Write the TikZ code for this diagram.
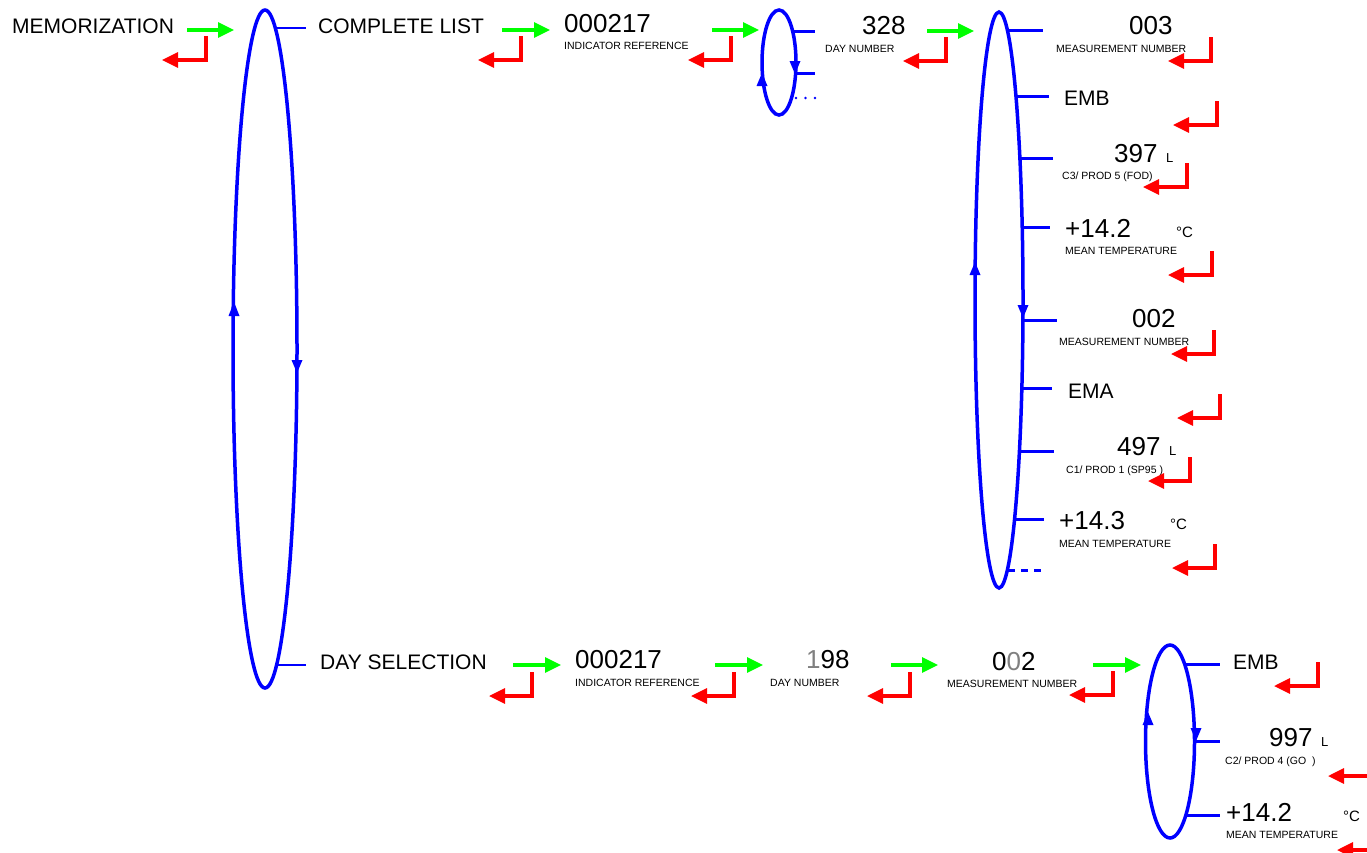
\documentclass[tikz,border=0pt]{standalone}
\usepackage{fontspec}
\setmainfont{Liberation Sans}
\usetikzlibrary{arrows.meta}
\definecolor{gr}{RGB}{0,255,0}
\definecolor{rd}{RGB}{255,0,0}
\definecolor{bl}{RGB}{0,0,255}
\definecolor{dg}{RGB}{128,128,128}
\tikzset{
  txt/.style={anchor=base west, inner sep=0pt, font=\fontsize{21}{24}\selectfont},
  num/.style={anchor=base west, inner sep=0pt, font=\fontsize{26}{30}\selectfont},
  lab/.style={anchor=base west, inner sep=0pt, font=\fontsize{10.5}{12}\selectfont},
  unit/.style={anchor=base west, inner sep=0pt, font=\fontsize{13}{15}\selectfont},
  deg/.style={anchor=base west, inner sep=0pt, font=\fontsize{15}{17}\selectfont},
  fwd/.style={draw=gr, line width=3.2pt, -{Triangle[length=16pt,width=15pt]}},
  back/.style={draw=rd, line width=3.2pt, -{Triangle[length=16pt,width=15pt]}},
  loopell/.style={draw=bl, line width=3.5pt},
  branch/.style={draw=bl, line width=3pt},
  thinbranch/.style={draw=bl, line width=2pt},
  bltip/.style={fill=bl}
}
\begin{document}
\begin{tikzpicture}[x=1pt,y=-1pt]
\useasboundingbox (0,0) rectangle (1367,852);
\clip (0,0) rectangle (1367,852);
\fill[white] (0,0) rectangle (1367,852);

% ---------- loops ----------
\draw[loopell] (265,349) ellipse [x radius=32, y radius=339];
\draw[loopell] (779,62.5) ellipse [x radius=17, y radius=52.5];
\draw[loopell] (999,300) ellipse [x radius=24, y radius=288];
\draw[loopell] (1170,741.5) ellipse [x radius=24.5, y radius=96.5];

% arrowheads on loops (up = tip smaller y)
\fill[bltip] (234,302) -- (228.5,316) -- (239.5,316) -- cycle;
\fill[bltip] (297,373) -- (291.5,360) -- (302.5,360) -- cycle;
\fill[bltip] (762,73) -- (756.5,86) -- (767.5,86) -- cycle;
\fill[bltip] (795,74) -- (789.5,61) -- (800.5,61) -- cycle;
\fill[bltip] (975,262) -- (969.5,275) -- (980.5,275) -- cycle;
\fill[bltip] (1023,318) -- (1017.5,305) -- (1028.5,305) -- cycle;
\fill[bltip] (1148,712) -- (1142.5,725) -- (1153.5,725) -- cycle;
\fill[bltip] (1196,741) -- (1190.5,728) -- (1201.5,728) -- cycle;

% ---------- branch coordinates ----------
\coordinate (bL1) at (275,28);   \coordinate (bL1e) at (306,28);
\coordinate (bL2) at (277,665);  \coordinate (bL2e) at (306,665);
\coordinate (bS1) at (791,31);   \coordinate (bS1e) at (815,31);
\coordinate (bS2) at (795,73);   \coordinate (bS2e) at (815,73);
\coordinate (bR1) at (1007,30);  \coordinate (bR1e) at (1043,30);
\coordinate (bR2) at (1016,96);  \coordinate (bR2e) at (1049,96);
\coordinate (bR3) at (1020,158); \coordinate (bR3e) at (1053,158);
\coordinate (bR4) at (1022,227); \coordinate (bR4e) at (1050,227);
\coordinate (bR5) at (1023,320); \coordinate (bR5e) at (1057,320);
\coordinate (bR6) at (1022,388); \coordinate (bR6e) at (1052,388);
\coordinate (bR7) at (1019,451); \coordinate (bR7e) at (1054,451);
\coordinate (bR8) at (1015,519); \coordinate (bR8e) at (1044,519);
\coordinate (bR9) at (1008,570); \coordinate (bR9e) at (1041,570);
\coordinate (bB1) at (1185,664); \coordinate (bB1e) at (1220,664);
\coordinate (bB2) at (1194,741); \coordinate (bB2e) at (1220,741);
\coordinate (bB3) at (1186,815); \coordinate (bB3e) at (1220,815);

\draw[thinbranch] (bL1) -- (bL1e);
\draw[thinbranch] (bL2) -- (bL2e);
\draw[branch] (bS1) -- (bS1e);
\draw[branch] (bS2) -- (bS2e);
\foreach \xd in {796,805.5,815} \fill[bl] (\xd,98) circle (1.3);
\foreach \i in {1,...,8} \draw[branch] (bR\i) -- (bR\i e);
\draw[branch, dash pattern=on 7pt off 6pt] (bR9) -- (bR9e);
\foreach \i in {1,2,3} \draw[branch] (bB\i) -- (bB\i e);

% ---------- texts ----------
\node[txt] (mem) at (12,33) {MEMORIZATION};
\node[txt] (cl) at (318,33) {COMPLETE LIST};
\node[num] (ir1) at (564,32) {000217};
\node[lab] (ir1l) at (564,49) {INDICATOR REFERENCE};
\node[num] (dn1) at (862,34) {328};
\node[lab] (dn1l) at (825,52) {DAY NUMBER};

\node[num] (m3) at (1129,34) {003};
\node[lab] (m3l) at (1056,52) {MEASUREMENT NUMBER};
\node[txt] (emb1) at (1064,105) {EMB};
\node[num] (q1) at (1114,162) {397};
\node[unit] (q1u) at (1166,162) {L};
\node[lab] (q1l) at (1062,179) {C3/ PROD 5 (FOD)};
\node[num] (t1) at (1065,237) {+14.2};
\node[deg] (t1u) at (1176,237) {°C};
\node[lab] (t1l) at (1065,254) {MEAN TEMPERATURE};

\node[num] (m2) at (1132,327) {002};
\node[lab] (m2l) at (1059,345) {MEASUREMENT NUMBER};
\node[txt] (ema) at (1068,398) {EMA};
\node[num] (q2) at (1117,455) {497};
\node[unit] (q2u) at (1169,455) {L};
\node[lab] (q2l) at (1066,473) {C1/ PROD 1 (SP95 )};
\node[num] (t2) at (1059,529) {+14.3};
\node[deg] (t2u) at (1170,529) {°C};
\node[lab] (t2l) at (1059,547) {MEAN TEMPERATURE};

\node[txt] (ds) at (320,669) {DAY SELECTION};
\node[num] (ir2) at (575,668) {000217};
\node[lab] (ir2l) at (575,686) {INDICATOR REFERENCE};
\node[num] (dn2) at (806,668) {{\color{dg}1}98};
\node[lab] (dn2l) at (770,686) {DAY NUMBER};
\node[num] (mb) at (992,670) {0{\color{dg}0}2};
\node[lab] (mbl) at (947,687) {MEASUREMENT NUMBER};
\node[txt] (emb2) at (1233,669) {EMB};
\node[num] (q3) at (1269,746) {997};
\node[unit] (q3u) at (1321,746) {L};
\node[lab] (q3l) at (1225,764) {C2/ PROD 4 (GO~~)};
\node[num] (t3) at (1226,821) {+14.2};
\node[deg] (t3u) at (1343,821) {°C};
\node[lab] (t3l) at (1226,838) {MEAN TEMPERATURE};

% ---------- forward (green) arrows ----------
\foreach \n/\xa/\xb/\yy in {1/187/234/30, 2/502/550/30, 3/712/759/30, 4/927/974/31,
                            5/513/561/665, 6/715/763/665, 7/891/938/665, 8/1093/1141/665}{
  \coordinate (g\n a) at (\xa,\yy);
  \coordinate (g\n b) at (\xb,\yy);
  \draw[fwd] (g\n a) -- (g\n b);
}

% ---------- return (red) arrows ----------
\foreach \n/\xx/\ya/\yb/\xt in {1/206/36/60/162, 2/521/36/60/478, 3/731/36/60/688, 4/946/37/61/903,
   5/1211/37/61/1168, 6/1217/101/125/1173, 7/1187/163/187/1143, 8/1212/251/275/1168,
   9/1214/330/354/1171, 10/1220/394/418/1177, 11/1190/457/481/1148, 12/1215/544/568/1172,
   13/532/672/696/489, 14/734/672/696/691, 15/910/672/696/867, 16/1113/671/695/1069,
   17/1318/662/686/1274, 18/1372/752/776/1328, 19/1381/826/850/1337}{
  \coordinate (r\n a) at (\xx,\ya);
  \coordinate (r\n b) at (\xx,\yb);
  \coordinate (r\n c) at (\xt,\yb);
  \draw[back] (r\n a) -- (r\n b) -- (r\n c);
}
\end{tikzpicture}
\end{document}
